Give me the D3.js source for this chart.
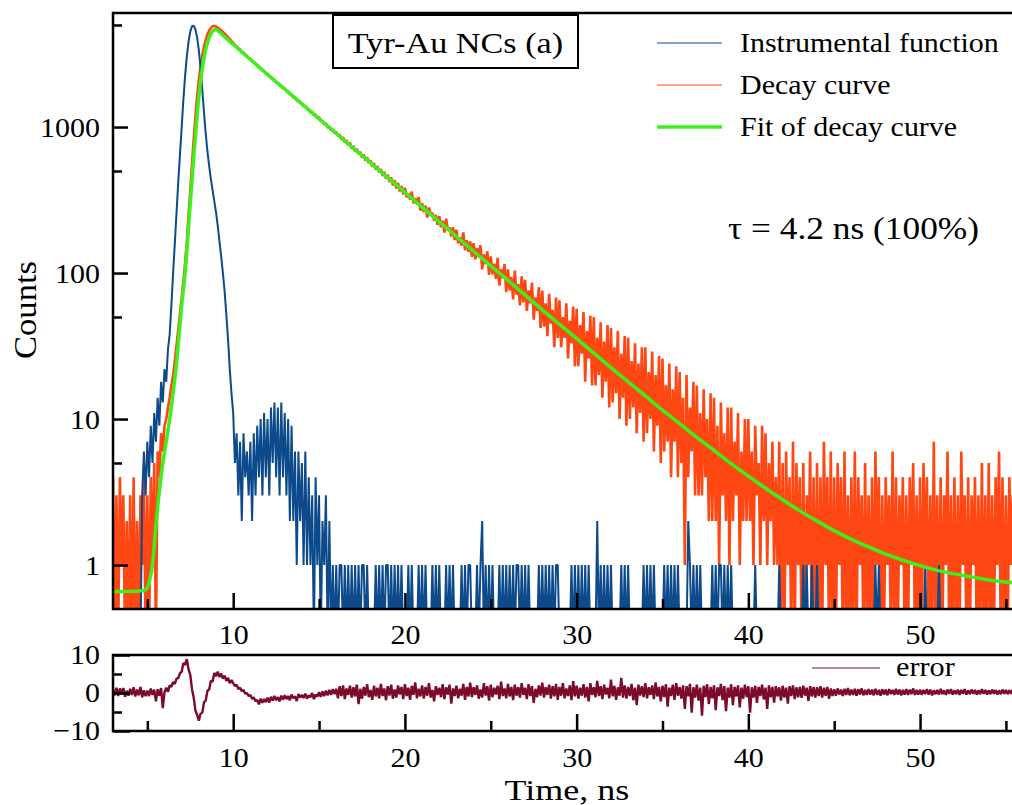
<!DOCTYPE html>
<html>
<head>
<meta charset="utf-8">
<script src="https://cdnjs.cloudflare.com/ajax/libs/d3/7.8.5/d3.min.js"></script>
<style>
  body { margin: 0; background: #fff; }
  svg { display: block; font-family: "Liberation Serif", "Times New Roman", serif; }
</style>
</head>
<body>
<svg id="chart" width="1012" height="805"></svg>
<script>
// channel 0 sits at 3.0 ns, one channel every 0.1 ns
const startTime = 3.0;
const channelWidth = 0.1;

// decay curve counts (one row = 1 ns)
const decayCounts = [
  4,0,3,0,4,1,3,0,2,0,
  3,0,4,0,2,0,3,1,4,0,
  3,0,4,1,5,0,6,4,8,6,
  9,10,12,14,17,20,25,32,41,53,
  68,88,118,165,250,370,560,830,1180,1620,
  2100,2600,3100,3550,3950,4300,4580,4780,4900,4930,
  4870,4790,4700,4590,4480,4360,4240,4120,4000,3880,
  3780,3640,3570,3450,3400,3280,3230,3120,3080,2960,
  2930,2820,2790,2690,2660,2550,2540,2440,2420,2330,
  2320,2220,2200,2120,2100,2020,2010,1930,1920,1850,
  1840,1760,1750,1680,1670,1600,1590,1520,1520,1460,
  1460,1390,1390,1330,1320,1260,1270,1210,1210,1150,
  1170,1095,1105,1040,1060,990,1010,950,965,905,
  930,866,890,820,851,784,812,748,781,712,
  742,680,708,652,676,618,650,588,620,566,
  592,536,566,510,540,488,516,462,494,442,
  472,420,452,398,432,380,414,362,394,346,
  384,330,352,318,361,300,326,296,331,268,
  300,262,289,240,281,252,258,229,250,214,
  246,206,228,189,236,196,205,178,206,168,
  198,160,176,154,190,143,168,140,165,129,
  160,124,148,128,155,106,134,115,141,97,
  130,98,116,91,127,82,106,92,115,74,
  106,76,94,66,104,71,84,60,95,63,
  90,55,76,62,86,48,68,55,80,42,
  76,43,62,37,72,45,56,31,68,36,
  65,31,50,36,62,26,47,33,59,23,
  57,23,44,28,54,18,40,26,51,17,
  50,17,36,20,46,14,34,18,44,12,
  42,13,31,15,40,10,28,14,37,9,
  36,10,25,12,33,8,24,11,31,7,
  31,8,21,10,29,6,20,9,27,5,
  26,6,17,7,24,4,16,7,23,4,
  21,5,14,1,20,4,12,6,18,3,
  17,3,11,3,16,4,10,2,15,2,
  14,2,9,1,13,3,8,2,12,1,
  12,2,7,3,11,1,6,2,10,2,
  10,2,6,1,9,3,5,1,9,2,
  8,1,5,2,7,1,4,1,7,0,
  5,0,6,1,4,0,7,0,5,1,
  4,0,5,0,3,1,6,0,4,0,
  5,0,4,0,7,1,4,0,6,0,
  4,0,5,1,4,0,6,0,3,0,
  4,0,6,0,4,1,3,0,5,0,
  3,0,4,0,6,1,4,0,3,0,
  4,1,3,0,6,0,4,0,3,1,
  4,0,3,0,4,1,5,0,3,0,
  4,0,5,1,4,0,3,0,7,0,
  3,0,4,0,3,1,6,0,3,0,
  4,0,3,0,6,1,3,0,4,0,
  3,1,4,0,3,0,5,0,3,0,
  5,0,3,0,4,1,6,0,4,0,
  3,0,4,1,3,0
];

// instrumental response counts
const irfCounts = [
  0,0,0,0,0,0,0,0,0,0,
  0,0,0,0,0,0,0,3,6,3,
  7,4,9,5,11,7,14,9,18,13,
  22,18,30,38,60,100,160,260,420,650,
  1000,1550,2250,3050,3850,4500,4900,4950,4650,4100,
  3350,2550,1800,1250,900,680,540,440,370,310,
  260,210,165,130,100,75,52,35,22,15,
  11,5,8,3,7,2,8,4,6,3,
  7,2,8,3,9,4,10,3,11,4,
  10,3,12,5,13,4,12,3,13,4,
  11,3,10,2,9,2,6,1,6,2,
  5,1,6,1,4,1,3,0,4,1,
  3,0,2,1,3,0,2,0,1,0,
  1,0,1,1,0,1,0,1,0,1,
  0,1,0,1,0,1,1,0,1,0,
  0,0,0,1,0,1,0,1,0,1,
  1,0,1,0,1,0,1,0,1,0,
  0,0,1,0,1,0,0,0,1,0,
  1,0,1,0,0,0,1,0,1,0,
  1,0,0,0,1,0,1,0,1,0,
  0,0,0,1,0,1,0,1,1,0,
  0,0,1,0,1,2,0,1,0,1,
  0,1,0,0,0,1,0,1,0,1,
  0,1,0,1,0,1,1,0,1,0,
  1,0,1,0,0,0,0,0,1,0,
  1,0,1,0,1,0,1,0,1,1,
  0,0,0,0,0,0,0,1,0,1,
  0,1,0,1,0,1,0,1,0,0,
  0,0,2,0,1,0,1,0,1,0,
  1,0,0,0,0,0,1,0,1,0,
  1,0,0,0,0,0,0,0,0,1,
  0,1,0,1,0,1,0,0,0,0,
  0,1,0,1,0,1,0,1,0,1,
  0,0,0,0,0,2,1,0,1,0,
  1,0,1,0,0,0,0,0,0,1,
  0,1,0,1,1,0,1,0,1,0,
  1,0,0,0,0,0,0,0,0,0,
  0,0,0,0,1,0,0,0,0,0,
  0,0,0,0,0,0,0,0,1,0,
  0,0,0,0,0,0,0,0,0,0,
  0,0,1,0,1,0,0,1,0,0,
  1,0,0,0,0,0,0,0,0,0,
  0,0,0,0,0,0,0,0,0,0,
  0,0,0,0,0,0,0,0,0,0,
  0,0,0,0,1,0,1,0,0,0,
  0,0,0,0,0,0,0,0,0,0,
  0,0,0,0,0,0,0,0,0,0,
  0,0,0,1,0,0,0,0,0,0,
  0,1,0,0,0,0,0,0,0,0,
  0,0,0,0,0,0,0,0,0,0,
  0,0,0,0,0,0,0,0,0,0,
  0,0,0,0,0,0,0,0,0,0,
  0,0,0,0,0,0
];

// weighted residuals of the fit
const residuals = [
  0.9,-0.6,1.4,-0.8,1.2,-0.3,1.3,-1.0,0.6,-0.7,
  1.1,-0.5,1.5,-0.9,0.9,-0.6,1.6,-1.1,0.7,-0.8,
  0.6,-0.8,1.2,-0.5,0.9,-2.2,1.0,-0.7,1.3,-4.0,
  0.2,1.4,0.3,2.0,1.6,2.9,2.4,3.8,3.9,5.2,
  5.6,7.9,7.4,8.9,6.2,4.8,1.0,-1.2,-4.6,-5.8,
  -7.3,-5.4,-5.2,-2.4,-2.0,0.6,0.9,3.2,3.0,5.3,
  4.4,5.6,4.2,5.1,3.8,4.6,3.2,4.0,2.6,3.4,
  2.6,1.8,2.2,1.0,1.4,0.5,0.8,-0.2,0.0,-0.8,
  -0.5,-1.5,-1.2,-2.2,-1.8,-3.0,-1.5,-2.6,-1.6,-2.4,
  -1.2,-2.5,-1.0,-2.0,-0.8,-1.9,-1.1,-2.2,-0.7,-1.8,
  -0.6,-1.6,-0.8,-1.9,-0.4,-1.4,-0.9,-2.1,-0.3,-1.2,
  -0.5,-1.3,-0.2,-1.5,-0.6,-1.1,0.0,-1.6,-0.4,-0.9,
  0.2,-1.0,0.4,-0.8,0.6,-0.6,0.8,-0.5,1.0,-0.3,
  1.1,-1.4,1.8,-0.8,2.0,-1.6,1.2,-0.5,1.9,-1.2,
  1.5,-0.9,2.2,-2.9,1.1,-1.5,1.6,-0.7,2.3,-1.1,
  0.8,-1.8,1.9,-0.9,1.4,-1.4,2.4,-0.8,1.2,-1.9,
  1.8,-0.7,2.2,-1.5,0.9,-1.2,2.0,-0.4,1.6,-1.6,
  2.3,-0.8,1.4,-1.8,1.9,-0.5,2.8,-1.4,1.1,-0.9,
  2.0,-1.5,1.6,-0.7,2.6,-1.2,0.8,-2.2,1.8,-0.5,
  1.4,-1.1,2.3,-1.6,1.5,-0.4,2.2,-2.8,1.2,-0.8,
  1.9,-1.4,1.1,-0.7,2.4,-1.8,1.6,-0.9,2.7,-1.1,
  1.5,-0.5,2.0,-1.5,0.9,-1.2,2.6,-0.7,1.8,-2.0,
  2.2,-1.1,1.4,-0.4,1.9,-1.6,3.0,-0.8,1.2,-1.4,
  2.4,-0.9,1.6,-1.9,2.2,-0.7,1.5,-1.2,2.6,-0.5,
  1.4,-1.6,2.3,-0.8,1.8,-2.6,1.1,-1.1,2.0,-0.7,
  2.7,-1.2,1.5,-0.5,2.2,-1.5,1.8,-0.9,2.4,-1.8,
  1.6,-0.7,2.6,-1.4,1.2,-0.8,2.0,-1.9,3.1,-0.9,
  1.9,-1.5,1.4,-0.7,2.3,-1.2,1.6,-2.2,2.6,-0.5,
  1.5,-1.1,3.2,-0.8,1.8,-1.6,2.2,-0.4,1.4,-1.4,
  3.5,-0.9,1.9,-1.8,1.5,-0.7,4.0,-1.2,2.0,-1.5,
  1.6,-0.8,2.4,-1.9,1.4,-3.2,2.2,-0.7,1.8,-1.1,
  2.6,-1.4,1.5,-0.5,2.0,-1.6,2.8,-0.9,1.6,-2.2,
  1.9,-1.1,2.3,-3.6,1.4,-0.8,2.2,-1.8,2.6,-0.7,
  1.6,-1.5,2.0,-4.2,1.8,-0.9,2.4,-5.2,1.5,-1.2,
  2.2,-2.0,1.4,-6.0,1.9,-1.1,2.3,-2.9,1.6,-1.4,
  2.0,-4.5,1.5,-0.8,2.4,-1.9,1.8,-4.8,1.4,-1.2,
  2.3,-3.2,1.6,-0.9,2.0,-3.8,1.4,-1.5,2.2,-1.1,
  1.8,-5.2,1.5,-1.2,1.9,-2.6,1.6,-0.8,2.2,-1.7,
  1.4,-4.2,2.0,-1.1,1.6,-2.5,1.8,-0.9,1.5,-2.0,
  1.9,-1.2,1.4,-2.8,1.8,-0.8,2.0,-1.6,1.5,-1.1,
  1.6,-1.3,1.9,-0.7,1.4,-2.1,1.8,-0.9,1.6,-1.2,
  1.5,-0.8,1.8,-1.2,1.4,-0.7,1.6,-1.5,1.2,-0.8,
  1.0,-0.7,1.2,-0.4,0.9,-0.8,1.1,-0.5,1.3,-0.6,
  0.9,-0.5,1.1,-0.7,1.0,-0.4,1.2,-0.6,0.8,-0.5,
  1.0,-0.4,0.9,-0.6,1.1,-0.5,0.8,-0.7,1.0,-0.4,
  0.9,-0.6,1.0,-0.3,0.8,-0.5,1.1,-0.4,0.9,-0.6,
  0.8,-0.4,1.0,-0.5,0.9,-0.3,1.2,-0.5,0.8,-0.4,
  0.9,-0.5,0.8,-0.3,1.0,-0.4,0.9,-0.6,0.7,-0.3,
  0.8,-0.4,1.1,-0.3,0.7,-0.5,0.9,-0.2,1.0,-0.4,
  0.7,-0.3,0.9,-0.5,0.8,-0.2,1.0,-0.4,0.7,-0.3,
  0.9,-0.2,0.8,-0.4,0.7,-0.3,1.0,-0.2,0.8,-0.4,
  0.7,-0.3,0.9,-0.2,0.8,-0.4,0.7,-0.3,0.9,-0.2,
  0.8,-0.3,0.7,-0.2,0.9,-0.3
];

// fitted curve, read at uneven times
const fitTimes = [3, 4, 4.8, 5.0, 5.15, 5.3, 5.45, 5.6, 5.75, 5.9,
  6.1, 6.3, 6.5, 6.7, 6.85, 7.0, 7.2, 7.35, 7.5, 7.65,
  7.8, 7.95, 8.1, 8.25, 8.4, 8.55, 8.7, 8.85, 9.0, 9.2,
  9.5, 10, 11, 12, 13, 14, 15, 16, 17, 18, 19, 20,
  21, 22, 23, 24, 25, 26, 27, 28, 29, 30,
  31, 32, 33, 34, 35, 36, 37, 38, 39, 40,
  41, 42, 43, 44, 45, 46, 47, 48, 49, 50,
  51, 52, 53, 54, 55, 55.5];
const fitCounts = [0.66, 0.66, 0.67, 0.70, 0.80, 1.0, 1.6, 2.5, 3.6, 5,
  7, 10, 15, 24, 38, 60, 100, 170, 300, 520,
  870, 1400, 2050, 2750, 3400, 3950, 4350, 4600, 4650, 4480,
  4150, 3680, 2900, 2290, 1815, 1440, 1140, 903, 716, 568, 450, 357,
  283, 224, 178, 141, 112, 89, 70.6, 56, 44.6, 35.5,
  28.3, 22.5, 18.0, 14.4, 11.5, 9.3, 7.5, 6.1, 4.95, 4.06,
  3.36, 2.80, 2.35, 2.0, 1.72, 1.5, 1.33, 1.19, 1.08, 0.99,
  0.92, 0.87, 0.83, 0.79, 0.765, 0.755];

const countTicks = [1, 10, 100, 1000];
const countMinorTicks = [5, 50, 500, 5000];
const timeTicks = [10, 20, 30, 40, 50];
const timeMinorTicks = [5, 15, 25, 35, 45, 55];
const errorTicks = [-10, 0, 10];
const errorMinorTicks = [-5, 5];

const legendNames = ["Instrumental function", "Decay curve", "Fit of decay curve"];
const colors = { irf: "#0c4a8c", decay: "#ff4713", fit: "#3df01c", error: "#7c0a2b" };

const svg = d3.select("#chart");
const font = "'Liberation Serif', 'Times New Roman', serif";

const main = { left: 113, right: 1014.5, top: 13, bottom: 609 };
const res = { top: 655, bottom: 731 };

const x = d3.scaleLinear().domain([3, 55.5]).range([main.left, main.right]);
const y = d3.scaleLog().domain([0.5, 6040]).range([main.bottom, main.top]);
const yErr = d3.scaleLinear().domain([-10, 10]).range([res.bottom, res.top]);

const channelTime = i => startTime + i * channelWidth;
const zeroFloor = 0.3; // empty channels are drawn down past the bottom edge

// the original lettering is a bit wider than Liberation Serif
function widen(sel, k) {
  sel.each(function () {
    const w = this.getComputedTextLength();
    d3.select(this).attr("textLength", w * k).attr("lengthAdjust", "spacingAndGlyphs");
  });
}

const defs = svg.append("defs");
defs.append("clipPath").attr("id", "clipMain").append("rect")
  .attr("x", main.left).attr("y", main.top)
  .attr("width", main.right - main.left).attr("height", main.bottom - main.top);
defs.append("clipPath").attr("id", "clipRes").append("rect")
  .attr("x", main.left).attr("y", res.top)
  .attr("width", main.right - main.left).attr("height", res.bottom - res.top);

const countLine = d3.line()
  .x((d, i) => x(channelTime(i)))
  .y(d => y(Math.max(d, zeroFloor)));

const plot = svg.append("g").attr("clip-path", "url(#clipMain)");

plot.append("path")
  .datum(decayCounts)
  .attr("d", countLine)
  .attr("fill", "none")
  .attr("stroke", colors.decay)
  .attr("stroke-width", 2.6)
  .attr("stroke-linejoin", "bevel");

plot.append("path")
  .datum(irfCounts)
  .attr("d", countLine)
  .attr("fill", "none")
  .attr("stroke", colors.irf)
  .attr("stroke-width", 2.0)
  .attr("stroke-linejoin", "bevel");

plot.append("path")
  .datum(fitTimes.map((t, i) => [t, fitCounts[i]]))
  .attr("d", d3.line().x(d => x(d[0])).y(d => y(d[1])).curve(d3.curveMonotoneX))
  .attr("fill", "none")
  .attr("stroke", colors.fit)
  .attr("stroke-width", 3.5);

svg.append("g").attr("clip-path", "url(#clipRes)")
  .append("path")
  .datum(residuals)
  .attr("d", d3.line().x((d, i) => x(channelTime(i))).y(d => yErr(d)))
  .attr("fill", "none")
  .attr("stroke", colors.error)
  .attr("stroke-width", 2.4)
  .attr("stroke-linejoin", "bevel");

// frames
svg.append("rect")
  .attr("x", main.left).attr("y", main.top)
  .attr("width", main.right - main.left).attr("height", main.bottom - main.top)
  .attr("fill", "none").attr("stroke", "#000").attr("stroke-width", 2.5);
svg.append("rect")
  .attr("x", main.left).attr("y", res.top)
  .attr("width", main.right - main.left).attr("height", res.bottom - res.top)
  .attr("fill", "none").attr("stroke", "#000").attr("stroke-width", 2.5);

function styleAxis(g) {
  g.select(".domain").remove();
  g.attr("font-size", null).attr("font-family", null);
  g.selectAll(".tick line").attr("stroke", "#000").attr("stroke-width", 2.5);
  g.selectAll(".tick text").attr("fill", "#000")
    .style("font-size", "28px").style("font-family", font)
    .call(widen, 1.07);
}

// main plot axes
svg.append("g").attr("transform", `translate(${main.left},0)`)
  .call(d3.axisLeft(y).tickValues(countTicks).tickSize(-15).tickPadding(13).tickFormat(d3.format("d")))
  .call(styleAxis);
svg.append("g").attr("transform", `translate(${main.left},0)`)
  .call(d3.axisLeft(y).tickValues(countMinorTicks).tickSize(-9).tickFormat(""))
  .call(styleAxis);
svg.append("g").attr("transform", `translate(0,${main.bottom})`)
  .call(d3.axisBottom(x).tickValues(timeTicks).tickSize(-16).tickPadding(15))
  .call(styleAxis);
svg.append("g").attr("transform", `translate(0,${main.bottom})`)
  .call(d3.axisBottom(x).tickValues(timeMinorTicks).tickSize(-10).tickFormat(""))
  .call(styleAxis);

// residual axes
svg.append("g").attr("transform", `translate(${main.left},0)`)
  .call(d3.axisLeft(yErr).tickValues(errorTicks).tickSize(-17).tickPadding(13))
  .call(styleAxis);
svg.append("g").attr("transform", `translate(${main.left},0)`)
  .call(d3.axisLeft(yErr).tickValues(errorMinorTicks).tickSize(-9).tickFormat(""))
  .call(styleAxis);
svg.append("g").attr("transform", `translate(0,${res.bottom})`)
  .call(d3.axisBottom(x).tickValues(timeTicks).tickSize(-17).tickPadding(16))
  .call(styleAxis);
svg.append("g").attr("transform", `translate(0,${res.bottom})`)
  .call(d3.axisBottom(x).tickValues(timeMinorTicks).tickSize(-10).tickFormat(""))
  .call(styleAxis);

// axis titles
svg.append("text")
  .attr("transform", "translate(36,310) rotate(-90)")
  .attr("text-anchor", "middle")
  .style("font-family", font).style("font-size", "32px")
  .text("Counts")
  .call(widen, 1.08);
svg.append("text")
  .attr("x", 567).attr("y", 800)
  .attr("text-anchor", "middle")
  .style("font-family", font).style("font-size", "30px")
  .text("Time, ns")
  .call(widen, 1.2);

// sample label box
svg.append("rect")
  .attr("x", 333).attr("y", 15).attr("width", 245).attr("height", 53)
  .attr("fill", "#fff").attr("stroke", "#000").attr("stroke-width", 2);
svg.append("text")
  .attr("x", 455.5).attr("y", 53)
  .attr("text-anchor", "middle")
  .style("font-family", font).style("font-size", "30px")
  .text("Tyr-Au NCs (a)")
  .call(widen, 1.14);

// legend
const legendColors = [colors.irf, colors.decay, colors.fit];
const legendWidths = [1, 1, 3.5];
const legend = svg.append("g");
legendNames.forEach((name, i) => {
  const ly = 43 + i * 42;
  legend.append("line")
    .attr("x1", 657).attr("x2", 722).attr("y1", ly).attr("y2", ly)
    .attr("stroke", legendColors[i]).attr("stroke-width", legendWidths[i]);
  legend.append("text")
    .attr("x", 740).attr("y", ly + 9)
    .style("font-family", font).style("font-size", "28px")
    .text(name)
    .call(widen, 1.07);
});

svg.append("text")
  .attr("x", 728).attr("y", 239)
  .style("font-family", font).style("font-size", "31px")
  .text("τ = 4.2 ns (100%)")
  .call(widen, 1.14);

svg.append("line")
  .attr("x1", 812).attr("x2", 880).attr("y1", 668).attr("y2", 668)
  .attr("stroke", colors.error).attr("stroke-width", 1);
svg.append("text")
  .attr("x", 896).attr("y", 676)
  .style("font-family", font).style("font-size", "27px")
  .text("error")
  .call(widen, 1.12);
</script>
</body>
</html>
